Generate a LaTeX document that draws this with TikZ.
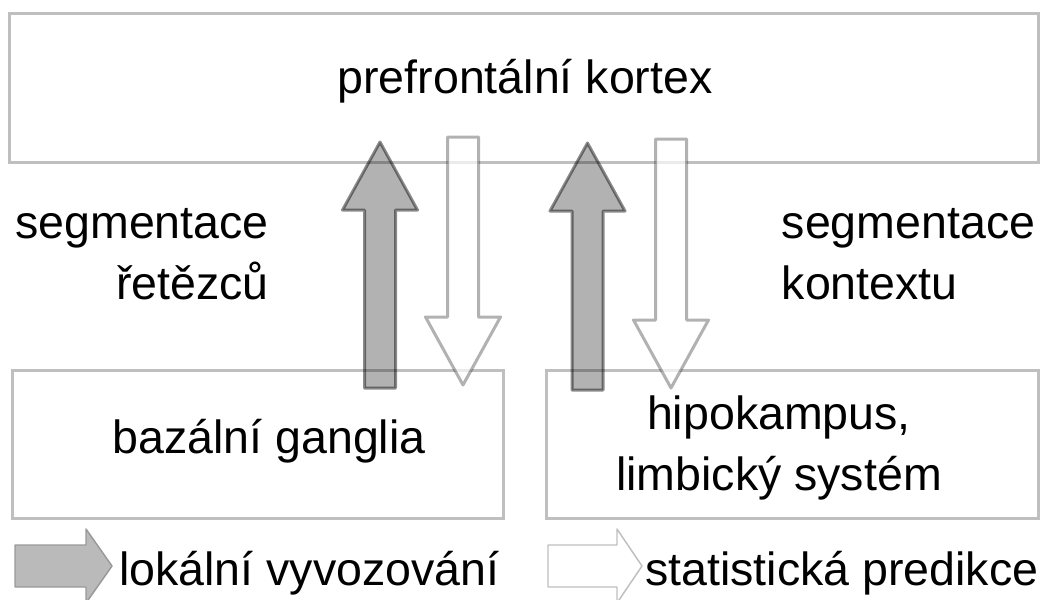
\documentclass[tikz,border=0pt]{standalone}
\usepackage{fontspec}
\setmainfont{Liberation Sans}
\usetikzlibrary{positioning}
\definecolor{boxgray}{RGB}{191,191,191}
\tikzset{
	x=0.75pt, y=-0.75pt, % one unit is one pixel of the reference, y runs down
	region/.style={draw=boxgray, line width=2.25pt, rectangle, inner sep=0pt}, % the three brain regions
	txt/.style={inner sep=0pt, font=\fontsize{34.9}{45.4}\selectfont}, % all labels
	upflow/.style={fill=black, fill opacity=0.3, draw=black, draw opacity=0.45, line width=2.25pt, line join=round}, % grey arrows
	downflow/.style={fill=white, fill opacity=0.7, draw=black, draw opacity=0.3, line width=2.25pt, line join=round}, % white arrows
}
\begin{document}
\begin{tikzpicture}
	\useasboundingbox (0,0) rectangle (1051,600);
	% regions
	\node[region, minimum width=771.75pt, minimum height=111.75pt] (pfc) at (523.5,87.5) {};
	\node[region, minimum width=368.25pt, minimum height=111pt] (bg) at (257.5,444) {};
	\node[region, minimum width=369pt, minimum height=111pt] (hip) at (792,444) {};
	% arrows between the regions
	\draw[upflow] (364.5,388) -- (364.5,210) -- (342.5,210) -- (380,142) -- (417.5,210) -- (395.5,210) -- (395.5,388) -- cycle;
	\draw[downflow] (447.5,137) -- (447.5,317) -- (425.5,317) -- (463,385) -- (500.5,317) -- (478.5,317) -- (478.5,137) -- cycle;
	\draw[upflow] (572,390) -- (572,211) -- (550,211) -- (587.5,143) -- (625,211) -- (603,211) -- (603,390) -- cycle;
	\draw[downflow] (655.5,139) -- (655.5,320) -- (633.5,320) -- (671,388) -- (708.5,320) -- (686.5,320) -- (686.5,139) -- cycle;
	% labels (base of a two-line label is its last line)
	\node[txt, anchor=base] (pfctxt) at (525,93) {prefrontální kortex};
	\node[txt, anchor=base] (bgtxt) at (269,453) {bazální ganglia};
	\node[txt, anchor=base, align=center] (hiptxt) at (779,490) {hipokampus,\\limbický systém};
	\node[txt, anchor=base east, align=right] (segl) at (269,299) {segmentace\\řetězců};
	\node[txt, anchor=base west, align=left] (segr) at (781.5,299) {segmentace\\kontextu};
	% legend
	\draw[fill=black!27, draw=black!40, line width=1.1pt, line join=round] (15,545) -- (86,545) -- (86,529) -- (112,566) -- (86,603) -- (86,587) -- (15,587) -- cycle;
	\node[txt, anchor=base west] (leg1) at (119,585) {lokální vyvozování};
	\draw[fill=white, draw=boxgray, line width=1.1pt, line join=round] (548,545) -- (617,545) -- (617,529) -- (642,566) -- (617,603) -- (617,587) -- (548,587) -- cycle;
	\node[txt, anchor=base west] (leg2) at (645,585) {statistická predikce};
\end{tikzpicture}
\end{document}
